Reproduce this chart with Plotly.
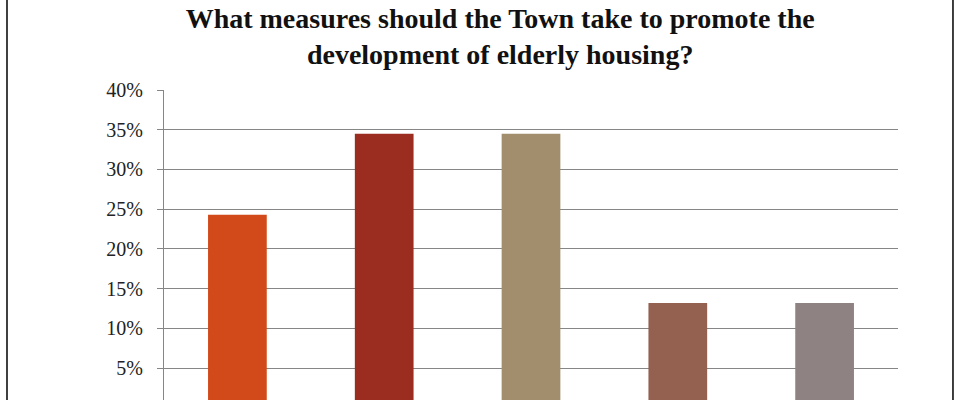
import plotly.graph_objects as go

categories = ["Option 1", "Option 2", "Option 3", "Option 4", "Option 5"]
shares = [0.243, 0.345, 0.345, 0.132, 0.132]
bar_colors = ["#D24A1A", "#9B2D20", "#A28E6C", "#946151", "#8E8283"]
tick_vals = [0.05, 0.10, 0.15, 0.20, 0.25, 0.30, 0.35, 0.40]
tick_text = ["5%", "10%", "15%", "20%", "25%", "30%", "35%", "40%"]

fig = go.Figure(
    go.Bar(x=categories, y=shares, marker_color=bar_colors, marker_line_width=0)
)

fig.update_layout(
    width=960,
    height=400,
    title=dict(
        text="What measures should the Town take to promote the<br>development of elderly housing?",
        xref="container",
        x=0.521,
        xanchor="center",
        yref="container",
        y=0.93,
        yanchor="top",
        font=dict(family="Liberation Serif", size=28, color="#111111", weight="bold"),
    ),
    bargap=0.6,
    showlegend=False,
    plot_bgcolor="white",
    paper_bgcolor="white",
    margin=dict(t=90, b=0, l=164, r=62),
    font=dict(family="Liberation Serif", size=20, color="#222222"),
)
fig.update_xaxes(showticklabels=False, showline=False, showgrid=False, zeroline=False)
fig.update_yaxes(
    range=[0.01, 0.40],
    tickvals=tick_vals,
    ticktext=tick_text,
    showgrid=True,
    gridcolor="#868686",
    gridwidth=1,
    showline=True,
    linecolor="#868686",
    ticks="outside",
    ticklen=6,
    tickcolor="#868686",
    ticklabelstandoff=10,
    zeroline=False,
)

# outer chart border (left/right edges, top sits above the view)
fig.add_shape(type="line", xref="paper", yref="paper", x0=-0.2139, x1=-0.2139, y0=-0.2, y1=1.5,
              line=dict(color="black", width=1.5))
fig.add_shape(type="line", xref="paper", yref="paper", x0=1.0749, x1=1.0749, y0=-0.2, y1=1.5,
              line=dict(color="black", width=1.5))

fig.write_html("out.html", config={"displayModeBar": False},
               post_script="document.body.style.margin='0';")
